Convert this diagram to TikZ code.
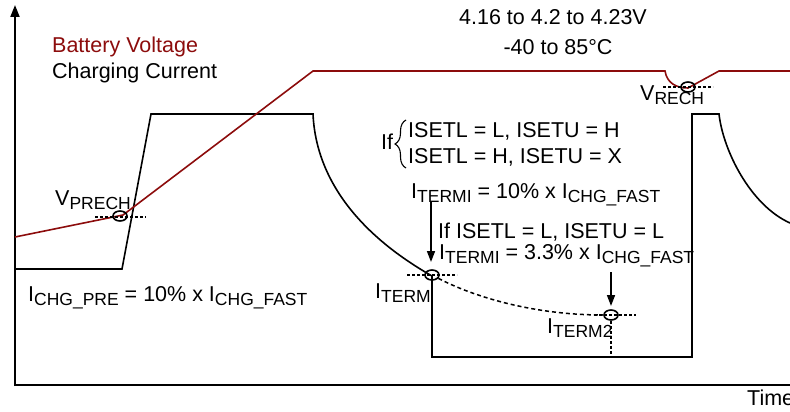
\documentclass[tikz,border=0pt]{standalone}
\usepackage{fontspec}
\setmainfont{Liberation Sans}
\usetikzlibrary{arrows.meta,decorations.pathreplacing,shapes.geometric}
\definecolor{vred}{RGB}{140,12,12}
\newcommand{\sbt}[1]{\raisebox{-4.5pt}{\fontsize{17.5}{17.5}\selectfont #1}}
\begin{document}
\begin{tikzpicture}[x=1pt,y=-1pt,
  every node/.style={inner sep=0pt, font=\fontsize{21.5}{25}\selectfont},
  lbl/.style={anchor=base west},
  axisline/.style={line width=2pt, -{Triangle[length=12pt,width=9pt]}},
  icurve/.style={line width=1.6pt, black},
  vcurve/.style={line width=1.6pt, vred},
  guide/.style={line width=1.4pt, dash pattern=on 3pt off 2pt},
  ring/.style={draw, ellipse, line width=1.6pt, minimum width=14pt, minimum height=10pt, inner sep=0pt},
  arr/.style={line width=1.6pt, -{Triangle[length=11pt,width=8pt]}}
]
\useasboundingbox (0,0) rectangle (790,412);
% axes
\coordinate (o) at (15,386);
\coordinate (yt) at (15,5);
\coordinate (xo) at (14,385);
\coordinate (xt) at (802,385);
\draw[axisline] (o) -- (yt);
\draw[axisline] (xo) -- (xt);
% charging current
\coordinate (c0) at (15,269);
\coordinate (c1) at (122,269);
\coordinate (c2) at (151,114);
\coordinate (c3) at (313,114);
\coordinate (c4) at (432,276);
\coordinate (c5) at (432,357);
\coordinate (c6) at (692,357);
\coordinate (c7) at (692,114);
\coordinate (c8) at (719,114);
\coordinate (c9) at (790,223);
\draw[icurve] (c0) -- (c1) -- (c2) -- (c3) .. controls (316,180) and (360,235) .. (c4) -- (c5) -- (c6) -- (c7) -- (c8) .. controls (723,150) and (750,205) .. (c9);
% battery voltage
\coordinate (v0) at (15,237);
\coordinate (v1) at (123,215);
\coordinate (v2) at (313,71);
\coordinate (v3) at (665,71);
\coordinate (v4) at (688,88);
\coordinate (v5) at (719,71);
\coordinate (v6) at (790,71);
\draw[vcurve] (v0) -- (v1) -- (v2) -- (v3) .. controls (667,83) and (676,88) .. (v4) -- (v5) -- (v6);
% markers
\node[ring] (mprech) at (120,216) {};
\node[ring] (mrech) at (688,87) {};
\node[ring] (mterm) at (432,275) {};
\node[ring] (mterm2) at (611,315) {};
\coordinate (g1a) at (95,217); \coordinate (g1b) at (146,217);
\coordinate (g2a) at (663,87); \coordinate (g2b) at (713,87);
\coordinate (g3a) at (407,275); \coordinate (g3b) at (457,275);
\coordinate (g4a) at (594,315); \coordinate (g4b) at (636,315);
\coordinate (g5) at (611,357);
\draw[guide] (g1a) -- (g1b);
\draw[guide] (g2a) -- (g2b);
\draw[guide] (g3a) -- (g3b);
\draw[guide] (g4a) -- (g4b);
\draw[guide] (mterm2.south) -- (g5);
\draw[line width=1.5pt, dash pattern=on 4pt off 3pt] (mterm) .. controls (470,295) and (530,315) .. (mterm2);
% arrows
\coordinate (a1s) at (431,201);
\coordinate (a1e) at (431,262);
\coordinate (a2s) at (611,272);
\coordinate (a2e) at (611,306);
\draw[arr] (a1s) -- (a1e);
\draw[arr] (a2s) -- (a2e);
% brace
\coordinate (b1) at (406,168);
\coordinate (b2) at (406,120);
\draw[line width=1.1pt, decorate, decoration={brace, amplitude=11pt}] (b1) -- (b2);
% texts
\node[lbl, text=vred] (tbv) at (52,53) {Battery Voltage};
\node[lbl] (tcc) at (52,78) {Charging Current};
\node[anchor=base] (tv) at (553,25) {4.16 to 4.2 to 4.23V};
\node[anchor=base] (tt) at (558,55) {-40 to 85°C};
\node[lbl] (tvprech) at (55,205) {V\sbt{PRECH}};
\node[lbl] (tpre) at (28,301) {I\sbt{CHG\_PRE} = 10\% x I\sbt{CHG\_FAST}};
\node[lbl] (tif1) at (381,149) {If};
\node[lbl] (tl1) at (408,137) {ISETL = L, ISETU = H};
\node[lbl] (tl2) at (408,163) {ISETL = H, ISETU = X};
\node[lbl] (tti1) at (411,198) {I\sbt{TERMI} = 10\% x I\sbt{CHG\_FAST}};
\node[lbl] (tif2) at (438,238) {If ISETL = L, ISETU = L};
\node[lbl] (tti2) at (439,259) {I\sbt{TERMI} = 3.3\% x I\sbt{CHG\_FAST}};
\node[lbl] (tterm) at (375,298) {I\sbt{TERM}};
\node[lbl] (tterm2) at (547,333) {I\sbt{TERM2}};
\node[lbl] (tvrech) at (640,100) {V\sbt{RECH}};
\node[lbl] (ttime) at (747,405) {Time};
\end{tikzpicture}
\end{document}
